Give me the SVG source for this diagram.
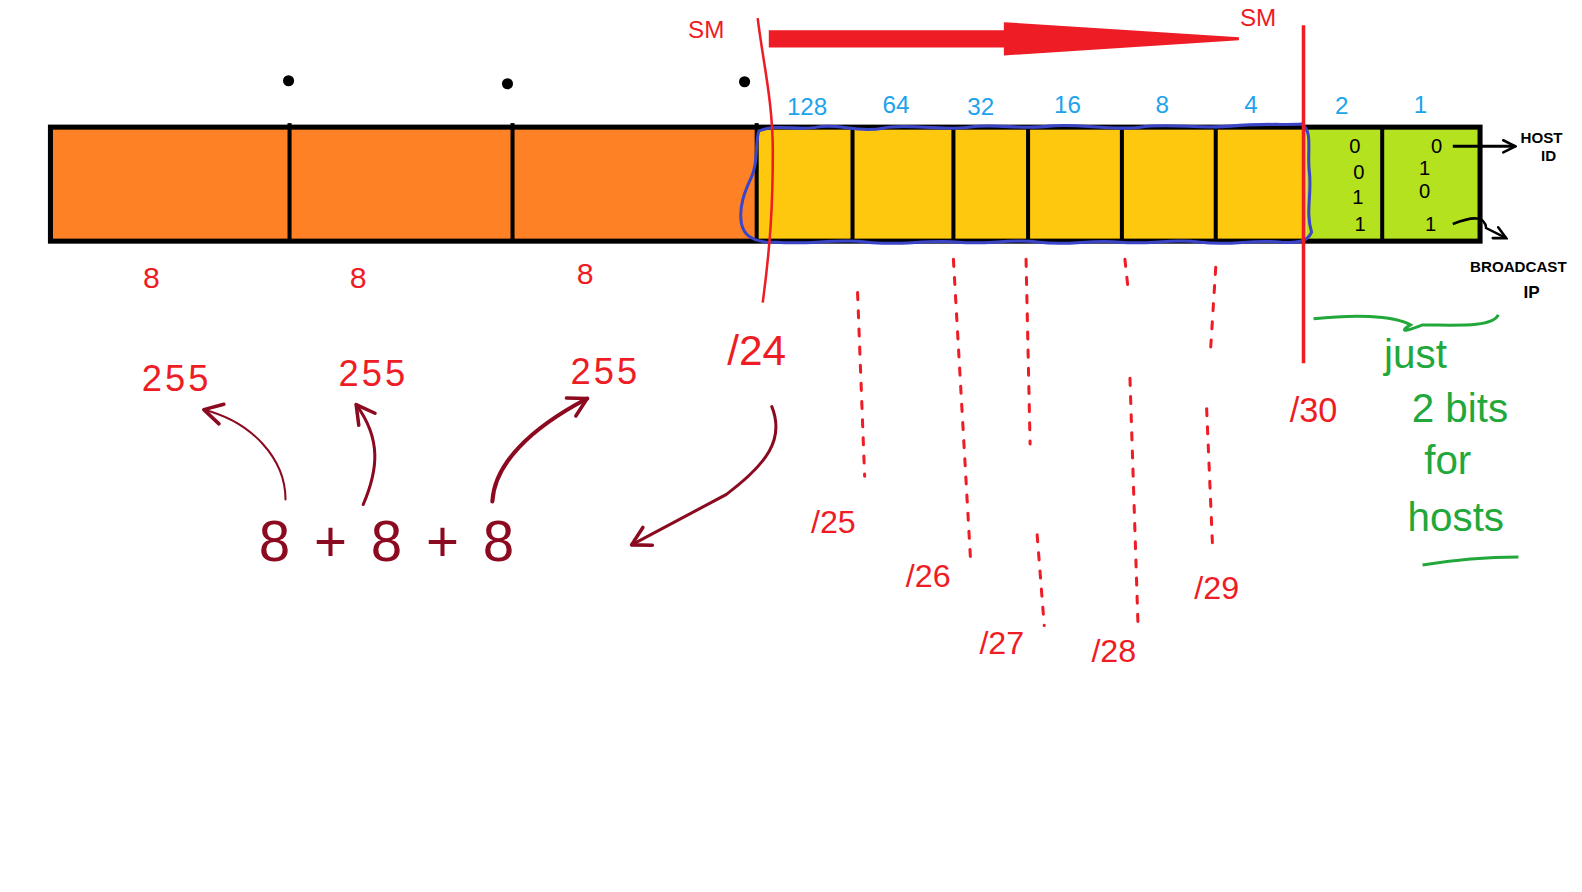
<svg xmlns="http://www.w3.org/2000/svg" width="1582" height="892" viewBox="0 0 1582 892">
<style>
.red{fill:#EE1C25;font-family:"Liberation Sans",sans-serif}
.blue{fill:#1CA3EC;font-family:"Liberation Sans",sans-serif;font-size:24px;text-anchor:middle}
.dred{fill:#8B0A1F;font-family:"Liberation Sans",sans-serif}
.green{fill:#22A83A;font-family:"Liberation Sans",sans-serif;font-size:40px;text-anchor:middle}
.bit{fill:#000;font-family:"Liberation Sans",sans-serif;font-size:20px;text-anchor:middle}
.blk{fill:#000;font-family:"Liberation Sans",sans-serif;font-weight:bold}
.div{stroke:#000;stroke-width:4}
.dash{stroke:#EE1C25;stroke-width:3;fill:none;stroke-dasharray:7 11;stroke-linecap:round}
.arr{stroke:#8B0A1F;fill:none;stroke-linecap:round}
</style>
<defs>
<marker id="ah" markerWidth="26" markerHeight="26" refX="22" refY="12" orient="auto" markerUnits="userSpaceOnUse">
<path d="M4,2 L22,12 L4,22" fill="none" stroke="#8B0A1F" stroke-width="3.5" stroke-linecap="round" stroke-linejoin="round"/>
</marker>
<marker id="bh" markerWidth="16" markerHeight="16" refX="14" refY="8" orient="auto" markerUnits="userSpaceOnUse">
<path d="M2,2 L14,8 L2,14" fill="none" stroke="#000" stroke-width="2.5" stroke-linecap="round"/>
</marker>
</defs>
<g transform="scale(1.0089,1.009)">
<g id="bar">
<rect x="50" y="126" width="700" height="113" fill="#FE8126"/>
<rect x="750" y="126" width="545" height="113" fill="#FEC80E"/>
<rect x="1295" y="126" width="172" height="113" fill="#B4E21E"/>
<line class="div" x1="287" y1="122" x2="287" y2="239"/>
<line class="div" x1="508" y1="122" x2="508" y2="239"/>
<line class="div" x1="750" y1="122" x2="750" y2="239"/>
<line class="div" x1="845" y1="126" x2="845" y2="239"/>
<line class="div" x1="945" y1="126" x2="945" y2="239"/>
<line class="div" x1="1019" y1="126" x2="1019" y2="239"/>
<line class="div" x1="1112" y1="126" x2="1112" y2="239"/>
<line class="div" x1="1205" y1="126" x2="1205" y2="239"/>
<line class="div" x1="1370" y1="126" x2="1370" y2="239"/>
<rect x="50" y="126" width="1417" height="113" fill="none" stroke="#000" stroke-width="5"/>
</g>
<g id="dots">
<circle cx="286" cy="80" r="5.5" fill="#000"/>
<circle cx="503" cy="83" r="5.5" fill="#000"/>
<circle cx="738" cy="81" r="5.5" fill="#000"/>
</g>
<g id="blue-outline">
<path d="M752,130 C770,122 790,130 810,126 C830,122 850,132 875,127 C900,122 930,130 960,126 C990,122 1010,129 1040,125 C1070,122 1100,130 1130,126 C1160,122 1190,128 1220,125 C1250,122 1275,124 1290,123 C1302,130 1295,150 1298,172 C1300,195 1294,210 1300,230 C1296,240 1285,241 1270,240 C1240,237 1220,244 1190,240 C1160,236 1140,243 1110,240 C1080,237 1060,244 1030,240 C1000,236 980,243 950,240 C920,237 890,244 860,240 C830,236 800,243 770,240 C750,241 738,236 735,222 C732,205 738,190 745,175 C752,160 748,145 752,130 Z" fill="none" stroke="#3B45C8" stroke-width="3"/>
</g>
<g id="bit-values">
<text class="blue" x="800" y="114">128</text>
<text class="blue" x="888" y="112">64</text>
<text class="blue" x="972" y="114">32</text>
<text class="blue" x="1058" y="112">16</text>
<text class="blue" x="1152" y="112">8</text>
<text class="blue" x="1240" y="112">4</text>
<text class="blue" x="1330" y="113">2</text>
<text class="blue" x="1408" y="112">1</text>
</g>
<g id="host-bits">
<text class="bit" x="1343" y="152">0</text>
<text class="bit" x="1347" y="177">0</text>
<text class="bit" x="1346" y="202">1</text>
<text class="bit" x="1348" y="229">1</text>
<text class="bit" x="1424" y="152">0</text>
<text class="bit" x="1412" y="173">1</text>
<text class="bit" x="1412" y="196">0</text>
<text class="bit" x="1418" y="229">1</text>
</g>
<g id="sm-arrow">
<path d="M762,30 L995,30 L995,22 L1228,37 L1228,40 L995,55 L995,47 L762,47 Z" fill="#EE1C25"/>
<text class="red" x="700" y="38" font-size="24" text-anchor="middle">SM</text>
<text class="red" x="1247" y="26" font-size="24" text-anchor="middle">SM</text>
<path d="M751,18 C756,60 766,100 766,150 C766,200 764,240 756,300" fill="none" stroke="#EE1C25" stroke-width="2.5"/>
<line x1="1292" y1="25" x2="1292" y2="360" stroke="#EE1C25" stroke-width="3.5"/>
</g>
<g id="octet-labels">
<text class="red" x="150" y="285" font-size="30" text-anchor="middle">8</text>
<text class="red" x="355" y="285" font-size="30" text-anchor="middle">8</text>
<text class="red" x="580" y="281" font-size="30" text-anchor="middle">8</text>
<text class="red" x="175" y="388" font-size="36" letter-spacing="3" text-anchor="middle">255</text>
<text class="red" x="370" y="383" font-size="36" letter-spacing="3" text-anchor="middle">255</text>
<text class="red" x="600" y="381" font-size="36" letter-spacing="3" text-anchor="middle">255</text>
</g>
<g id="prefixes">
<text class="red" x="750" y="362" font-size="42" text-anchor="middle">/24</text>
<text class="red" x="826" y="528" font-size="32" text-anchor="middle">/25</text>
<text class="red" x="920" y="582" font-size="32" text-anchor="middle">/26</text>
<text class="red" x="993" y="648" font-size="32" text-anchor="middle">/27</text>
<text class="red" x="1104" y="656" font-size="32" text-anchor="middle">/28</text>
<text class="red" x="1206" y="594" font-size="32" text-anchor="middle">/29</text>
<text class="red" x="1302" y="418" font-size="34" text-anchor="middle">/30</text>
</g>
<g id="connectors">
<path class="dash" d="M850,290 L857,472"/>
<path class="dash" d="M945,257 L962,555"/>
<path class="dash" d="M1017,257 L1021,440"/>
<path class="dash" d="M1028,530 L1035,620"/>
<path class="dash" d="M1115,257 L1118,285"/>
<path class="dash" d="M1120,375 L1128,620"/>
<path class="dash" d="M1205,265 L1200,345"/>
<path class="dash" d="M1196,405 L1202,545"/>
<path class="arr" stroke-width="2" d="M283,495 C283,455 250,418 202,406" marker-end="url(#ah)"/>
<path class="arr" stroke-width="3" d="M360,500 C375,465 378,435 353,401" marker-end="url(#ah)"/>
<path class="arr" stroke-width="4" d="M488,497 C490,460 525,425 582,395" marker-end="url(#ah)"/>
<path class="arr" stroke-width="3" d="M765,403 C778,435 760,460 720,490 L626,540" marker-end="url(#ah)"/>
<line x1="1440" y1="145" x2="1502" y2="145" stroke="#000" stroke-width="3" marker-end="url(#bh)"/>
<path d="M1440,222 C1460,214 1472,214 1473,226 L1493,236" fill="none" stroke="#000" stroke-width="2.5" marker-end="url(#bh)"/>
</g>
<g id="sum">
<text class="dred" x="385" y="556" font-size="56" letter-spacing="4" text-anchor="middle">8 + 8 + 8</text>
</g>
<g id="host-labels">
<text class="blk" x="1528" y="142" font-size="15" text-anchor="middle">HOST</text>
<text class="blk" x="1535" y="160" font-size="15" text-anchor="middle">ID</text>
<text class="blk" x="1505" y="270" font-size="15" text-anchor="middle">BROADCAST</text>
<text class="blk" x="1518" y="295" font-size="17" text-anchor="middle">IP</text>
</g>
<g id="host-note">
<path d="M1302,316 C1340,312 1380,312 1398,322 C1385,330 1395,328 1410,322 C1440,322 1480,325 1485,312" fill="none" stroke="#22A83A" stroke-width="3"/>
<text class="green" x="1403" y="365">just</text>
<text class="green" x="1447" y="418">2 bits</text>
<text class="green" x="1435" y="470">for</text>
<text class="green" x="1443" y="526">hosts</text>
<path d="M1410,560 C1440,555 1475,552 1505,552" fill="none" stroke="#22A83A" stroke-width="3"/>
</g>
</g>
</svg>
